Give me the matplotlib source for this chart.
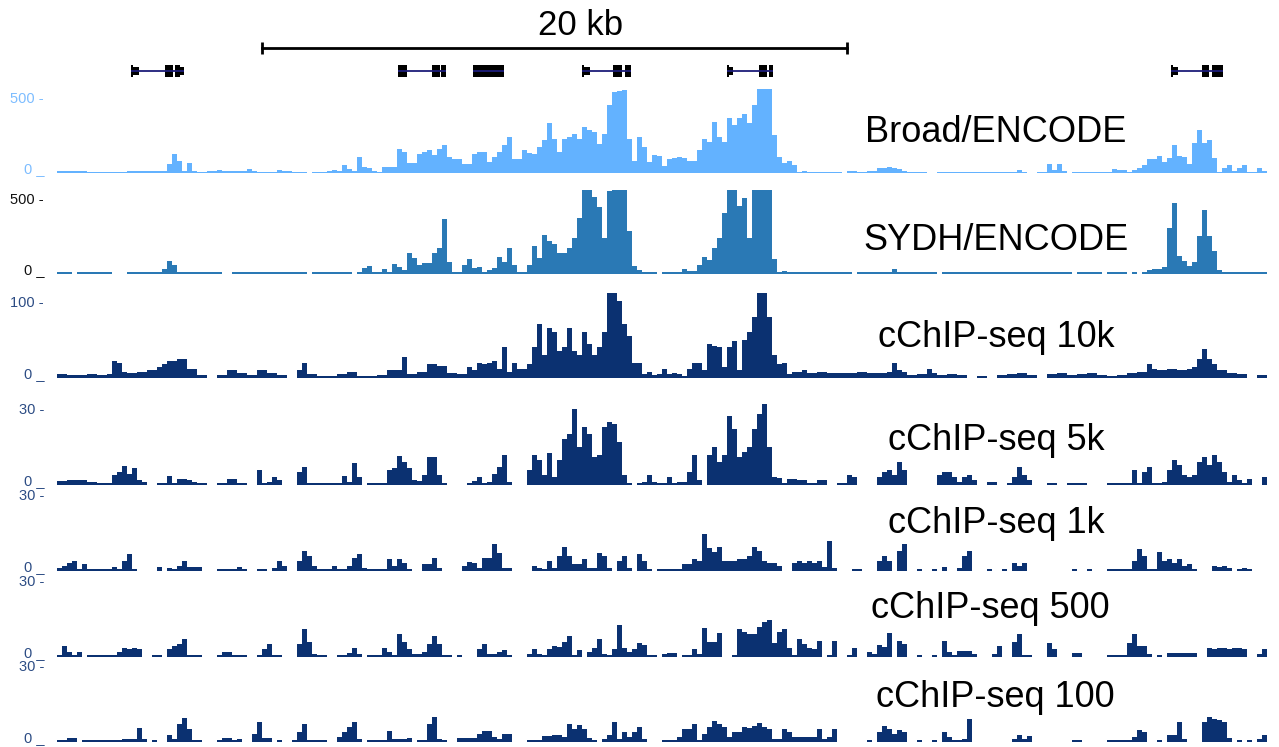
import numpy as np
import matplotlib
matplotlib.use("Agg")
import matplotlib.pyplot as plt
from matplotlib.transforms import blended_transform_factory, ScaledTranslation

plt.rcParams['font.family'] = ['Liberation Sans', 'DejaVu Sans']
nan = np.nan

# region: 41.47 kb shown, every track binned at ~171 bp
region_kb = 41.47
bin_kb = 0.171

broad = [10,10,15,12,10,10,8,8,8,8,
         8,8,8,8,10,10,10,10,12,12,
         12,15,60,127,80,15,65,15,8,8,
         10,10,22,12,10,10,12,12,25,15,
         8,8,8,8,22,15,10,8,8,8,
         nan,8,8,8,10,20,15,55,27,15,
         105,38,33,11,9,38,42,38,160,138,
         67,67,127,138,149,120,160,182,105,89,
         89,60,60,127,138,138,71,105,138,182,
         238,93,93,149,133,127,171,215,327,227,
         138,227,238,260,227,304,282,271,193,260,
         449,533,538,549,227,80,240,170,70,120,
         111,49,89,98,105,98,82,82,149,227,
         204,338,238,204,360,315,360,387,327,449,
         553,553,553,249,105,67,82,53,9,15,
         8,8,8,8,8,8,8,nan,12,15,
         8,8,10,12,35,35,38,30,25,12,
         8,8,8,8,nan,nan,8,8,8,8,
         8,8,8,8,8,8,8,8,8,8,
         8,8,20,8,nan,nan,8,8,60,20,
         60,15,nan,8,8,8,8,8,9,9,
         9,25,22,22,9,20,30,55,89,89,
         109,75,100,185,110,105,60,200,285,200,
         215,100,9,30,53,15,30,55,9,9,
         30,15]
sydh = [10,10,10,nan,10,10,10,10,10,10,
        10,nan,nan,nan,10,12,12,10,10,10,
        12,30,85,60,15,10,10,10,10,10,
        10,10,10,nan,nan,10,10,10,10,10,
        10,10,10,10,10,10,12,10,10,10,
        nan,10,10,10,10,10,10,10,10,nan,
        10,42,55,15,10,33,15,64,49,27,
        138,104,60,71,71,138,171,360,82,10,
        10,60,100,38,49,15,27,42,115,82,
        171,60,15,12,60,182,104,260,215,198,
        138,138,171,238,371,553,553,504,438,238,
        549,553,553,553,282,50,25,10,10,10,
        nan,10,10,10,10,30,18,18,60,115,
        90,170,235,400,553,553,450,500,240,553,
        553,553,553,100,15,20,10,10,10,10,
        10,10,10,10,10,10,10,10,10,nan,
        10,10,10,10,10,10,15,35,10,10,
        10,10,10,10,10,10,nan,10,10,10,
        10,10,10,10,10,10,10,10,10,10,
        10,10,10,10,10,10,10,10,10,10,
        10,10,10,nan,10,10,10,10,10,nan,
        10,10,10,10,nan,10,nan,15,25,33,
        33,49,300,470,120,87,50,80,250,420,
        250,150,25,10,10,10,10,10,10,10,
        10,10]
c10k = [5,5,4,4,4,4,5,5,4,4,
        5,22,20,8,6,6,8,8,10,10,
        15,18,22,22,25,25,12,12,4,4,
        nan,nan,4,4,10,10,6,6,4,4,
        10,10,6,6,4,4,nan,nan,10,20,
        5,5,3,3,3,3,5,5,8,8,
        3,3,3,3,4,4,10,10,10,27,
        5,5,8,8,18,18,16,16,6,6,
        5,5,15,11,20,18,20,22,12,40,
        8,20,12,12,18,40,70,30,65,60,
        35,40,65,35,30,60,45,30,40,60,
        112,112,100,70,55,20,20,5,8,4,
        5,12,5,7,5,3,12,20,20,10,
        45,42,40,15,40,48,10,50,60,80,
        112,112,80,30,18,20,5,8,8,10,
        6,6,8,8,7,7,6,6,7,7,
        8,8,6,6,6,6,8,20,10,8,
        4,4,5,5,12,6,4,4,5,5,
        4,4,nan,nan,3,3,nan,nan,4,4,
        5,5,6,6,4,4,nan,nan,5,5,
        6,6,4,4,5,5,6,6,4,4,
        3,3,4,4,6,6,8,8,18,12,
        10,10,12,12,10,10,12,15,25,38,
        25,18,10,10,6,6,5,5,nan,nan,
        4,4]
c5k = [1.5,1.5,2,2,2,2,1,1,0.6,0.6,
       0.6,4,5,7.5,4.5,6.8,2,1,nan,nan,
       0.6,0.6,3.5,0.6,2.4,2.4,2,1,0.6,0.6,
       nan,nan,0.6,0.6,2.5,2.5,0.6,0.6,nan,nan,
       5.8,0.6,1,3,2,nan,nan,nan,5,7,
       0.6,0.6,0.6,0.6,0.6,0.6,0.6,3.6,1,8.6,
       3,nan,0.6,0.6,0.6,0.6,6,6.6,11.6,9,
       6.6,2,1.5,4,11,11,4,0.6,nan,nan,
       nan,nan,0.6,1.5,3,0.6,1.3,4.5,7,12,
       1,nan,nan,nan,6,12,10,4,12.5,3,
       10,18,20,30,15,23,20,11,12,23,
       25,24,17,4,0.6,nan,0.6,1,4,1,
       0.6,0.6,3,0.6,1,1,5,12,2,nan,
       12,15,9,12,27,22,11,13,15,22,
       28,32,15,3,2.6,0.6,2.5,2.5,2,2,
       0.6,0.6,2,2,nan,nan,0.6,0.6,4,3,
       nan,nan,nan,nan,3,5,6,4,9,6,
       nan,nan,nan,nan,nan,nan,4,5,5,3,
       1,3,4,2,nan,nan,1,1,nan,nan,
       0.6,3,7,4,2,nan,nan,nan,0.6,0.6,
       nan,nan,0.6,0.6,0.6,0.6,nan,nan,nan,nan,
       0.6,0.6,0.6,0.6,0.6,6,0.6,5,7,0.6,
       0.6,1,6,10,8,4,3,4,9,11,
       8,11.8,9,5,1,4,2,0.6,2.5,nan,
       nan,3]
c1k = [1.3,2,3,4,0.6,2.7,0.6,0.6,0.6,0.6,
       0.6,1.6,0.6,4,6.7,0.6,nan,nan,nan,nan,
       1.6,nan,1,0.6,2,4,1.7,1.7,1.7,nan,
       nan,nan,0.6,0.6,0.6,0.6,1.6,0.6,nan,nan,
       0.6,0.6,nan,1,4,2,nan,nan,4,8,
       6,2,0.6,0.6,0.6,2,0.6,0.6,2,5,
       6.7,1,0.6,0.6,0.6,0.6,4.7,2,4.7,3.3,
       0.6,nan,nan,2.7,2.7,5.3,1,nan,nan,nan,
       nan,2,3.6,3,1,5.3,5,10.7,7,1,
       1,nan,nan,nan,nan,2,1,0.6,4,1,
       6,9.3,6,2.7,2.7,4.7,1.3,1.3,7,6,
       1,nan,4,6,1,nan,6.7,4,0.6,nan,
       0.6,0.6,0.6,0.6,0.6,2.7,2.7,4.7,4,14.7,
       9,7.3,9.3,4,4,4,4.7,4.7,6,9.3,
       8,4,3.3,3.3,2,nan,nan,3,4,3,
       4,3,4,1.5,12,1,nan,nan,nan,0.6,
       0.6,nan,nan,nan,4,6,4,nan,8,10.7,
       nan,nan,0.6,nan,nan,0.6,nan,1.5,nan,nan,
       1,6,8,nan,nan,nan,0.6,nan,nan,0.6,
       nan,3.3,2,3.3,nan,nan,nan,nan,nan,nan,
       nan,nan,nan,0.6,nan,nan,0.6,nan,nan,nan,
       0.6,0.6,0.6,0.6,0.6,4,8.7,6,0.6,0.6,
       7.3,4,4.7,3,4.7,2,2.7,0.6,nan,nan,
       nan,2,1.5,2,1,nan,0.6,1,0.6,nan,
       nan,nan]
c500 = [0.6,4.5,2,0.6,1.9,nan,0.6,0.6,0.6,0.6,
        0.6,0.6,2,3.6,3,3.6,3,nan,nan,0.6,
        0.6,nan,3,4.3,5,6.9,0.6,0.6,0.6,nan,
        nan,nan,0.6,1.9,1.9,0.6,0.6,0.6,nan,nan,
        0.6,3,5.3,0.6,0.6,nan,nan,nan,5,10.9,
        6,1,0.6,0.6,nan,nan,0.6,0.6,1.5,3.6,
        1,nan,0.6,0.6,0.6,3.6,2,0.6,8.9,6,
        3,1,1,1.9,5,8.3,5,0.6,0.6,nan,
        0.6,nan,nan,nan,3,5.3,1.3,1.3,2,2.9,
        0.6,nan,nan,nan,1,3.3,1,0.6,3,4.3,
        4,6,8.3,0.6,2.9,nan,2,3.6,7.2,1,
        0.6,3,12.5,3.6,2,3,5.6,4.9,0.6,0.6,
        nan,1,1.6,1.6,nan,0.6,0.6,3.2,1,11.6,
        6,6,9.6,nan,nan,0.6,10.9,10,9,8.9,
        12,13.6,14.7,5.6,10,11.2,3.6,0.6,6.9,5,
        3.6,3,6.3,nan,0.6,6.3,nan,nan,0.6,3.6,
        nan,nan,1.9,1,4.9,4,9.6,nan,6.3,5,
        nan,nan,0.6,nan,nan,0.6,nan,6.3,2,0.6,
        2.3,2.3,2.3,1,nan,nan,nan,1,4.3,nan,
        nan,6,8.9,0.6,0.6,nan,nan,nan,5.6,3,
        nan,nan,nan,1.5,1.5,nan,nan,nan,nan,nan,
        0.6,0.6,0.6,0.6,5.6,8.9,4.3,4.3,1,nan,
        0.6,nan,1.6,1.6,1.6,1.6,1.6,1.6,nan,nan,
        3.6,3,3.6,3.6,3,3.6,3.6,3,nan,nan,
        1,3.2]
c100 = [0.6,0.6,1.7,1.7,nan,0.6,0.6,0.6,0.6,0.6,
        0.6,0.6,0.6,1.3,1.3,1.3,5.5,1,nan,0.6,
        nan,nan,2.9,1,7,9.5,5,0.6,0.6,nan,
        nan,nan,0.6,1.6,1.6,0.6,1.3,nan,nan,3,
        7.9,1.6,1.6,nan,0.6,nan,nan,0.6,4,7.2,
        0.6,0.6,0.6,0.6,nan,nan,2,4,6,7.9,
        1,nan,0.6,0.6,0.6,0.6,4.3,1.3,1.3,1.3,
        1.7,nan,0.6,0.6,7,9.9,1,0.6,nan,nan,
        1.6,1.6,1.6,1.6,3,4.3,4.3,2,1,3.3,
        3,nan,nan,nan,0.6,0.6,0.6,2.4,2.4,2.6,
        2.6,2,7,5,6.8,5,1.6,0.6,nan,1,
        2.9,7.9,1,4,2,4,5.9,1.3,nan,nan,
        nan,0.6,0.6,0.6,2,5,5,7,0.6,3,
        6,8.3,7,6,2,4,4,5.9,5.5,6.5,
        7.5,5.9,5,1.3,1,5,4,2,2,2,
        2,2,5,1,2,5,nan,nan,nan,nan,
        nan,nan,0.6,nan,4,6.3,5,3,4.6,4,
        nan,nan,0.6,nan,nan,0.6,nan,4,2,0.6,
        0.6,1,8.9,nan,nan,nan,nan,nan,nan,nan,
        nan,1,2.9,1,2.4,nan,nan,nan,nan,nan,
        nan,nan,nan,0.6,0.6,nan,nan,nan,nan,nan,
        0.6,0.6,0.6,0.6,0.6,2,4.6,4,nan,nan,
        0.6,nan,2.9,2.9,7.9,1.3,nan,nan,nan,8,
        9.9,9,8.5,8,1.6,nan,0.6,nan,0.6,nan,
        1,2.9]

track_names = ['Broad/ENCODE', 'SYDH/ENCODE', 'cChIP-seq 10k', 'cChIP-seq 5k',
               'cChIP-seq 1k', 'cChIP-seq 500', 'cChIP-seq 100']
track_values = [broad, sydh, c10k, c5k, c1k, c500, c100]
track_max = [553, 553, 111, 33.5, 33.5, 33.5, 33.5]
track_tick = [500, 500, 100, 30, 30, 30, 30]

# genes: span and exons (start, end, full height?) in kb
genes = [
    (2.53, 4.34, [(2.53, 2.60, 1), (2.60, 2.80, 0), (3.69, 3.97, 1), (4.03, 4.21, 1), (4.21, 4.34, 0)]),
    (11.66, 13.30, [(11.66, 11.97, 1), (12.82, 13.09, 1), (13.13, 13.30, 1)]),
    (14.22, 15.28, [(14.22, 15.28, 1)]),
    (17.95, 19.62, [(17.95, 18.02, 1), (18.02, 18.22, 0), (19.01, 19.32, 1), (19.42, 19.62, 1)]),
    (22.91, 24.48, [(22.91, 22.97, 1), (22.97, 23.11, 0), (24.00, 24.27, 1), (24.34, 24.48, 1)]),
    (38.09, 39.86, [(38.09, 38.15, 1), (38.15, 38.32, 0), (39.15, 39.38, 1), (39.49, 39.86, 1)]),
]
scale_start, scale_len = 7.0, 20.0

W, H = 1279, 747
fig = plt.figure(figsize=(W / 100, H / 100), dpi=100)

def add_px_axes(top, bottom):
    return fig.add_axes([57 / W, 1 - bottom / H, 1213 / W, (bottom - top) / H])

fill_cols = ['#63b2ff', '#2a79b5'] + ['#0b3171'] * 5
tick_cols = ['#7dbdff', '#111111'] + ['#2c4c84'] * 5
tops = [89, 190, 293, 400, 486, 572, 657]
bottoms = [173, 274, 378, 485, 571, 657, 742]
label_base = [142, 250, 347, 450, 533, 618, 707]
label_x = [996, 996, 996, 996, 996, 990, 995]

for i, vals in enumerate(track_values):
    ax = add_px_axes(tops[i], bottoms[i])
    vals = np.array(vals, dtype=float)
    x = np.arange(len(vals)) * bin_kb
    ax.bar(x, vals, width=bin_kb, align='edge', color=fill_cols[i],
           linewidth=0, antialiased=False)
    ax.set_xlim(0, region_kb)
    ax.set_ylim(0, track_max[i])
    ax.axis('off')
    tr = blended_transform_factory(ax.transAxes, ax.transData) + \
        ScaledTranslation(-13 / 100, 0, fig.dpi_scale_trans)
    ax.text(0, track_tick[i], '%d -' % track_tick[i], transform=tr, ha='right',
            va='center_baseline', fontsize=10.5, color=tick_cols[i])
    ax.text(0, 0, '0 _', transform=tr, ha='right', va='baseline',
            fontsize=10.5, color=tick_cols[i])
    fig.text(label_x[i] / W, 1 - label_base[i] / H, track_names[i],
             ha='center', va='baseline', fontsize=26)

# gene models
gax = add_px_axes(59, 83)
for start, end, exons in genes:
    gax.plot([start, end], [0, 0], color='#1c1c7a', lw=1.3, solid_capstyle='butt')
    for s, e, full in exons:
        h = 0.5 if full else 0.3
        gax.broken_barh([(s, e - s)], (-h, 2 * h), color='black', linewidth=0)
gax.set_xlim(0, region_kb)
gax.set_ylim(-1, 1)
gax.axis('off')

# scale bar
sax = add_px_axes(36, 60)
sax.plot([scale_start, scale_start + scale_len], [0, 0], color='black', lw=2)
sax.plot([scale_start, scale_start + scale_len], [0, 0], color='black', lw=0,
         marker='|', markersize=9, markeredgewidth=2)
sax.set_xlim(0, region_kb)
sax.set_ylim(-1, 1)
sax.axis('off')
fig.text(581 / W, 1 - 35 / H, '20 kb', ha='center', va='baseline', fontsize=25)

fig.savefig('out.png', dpi=100)
